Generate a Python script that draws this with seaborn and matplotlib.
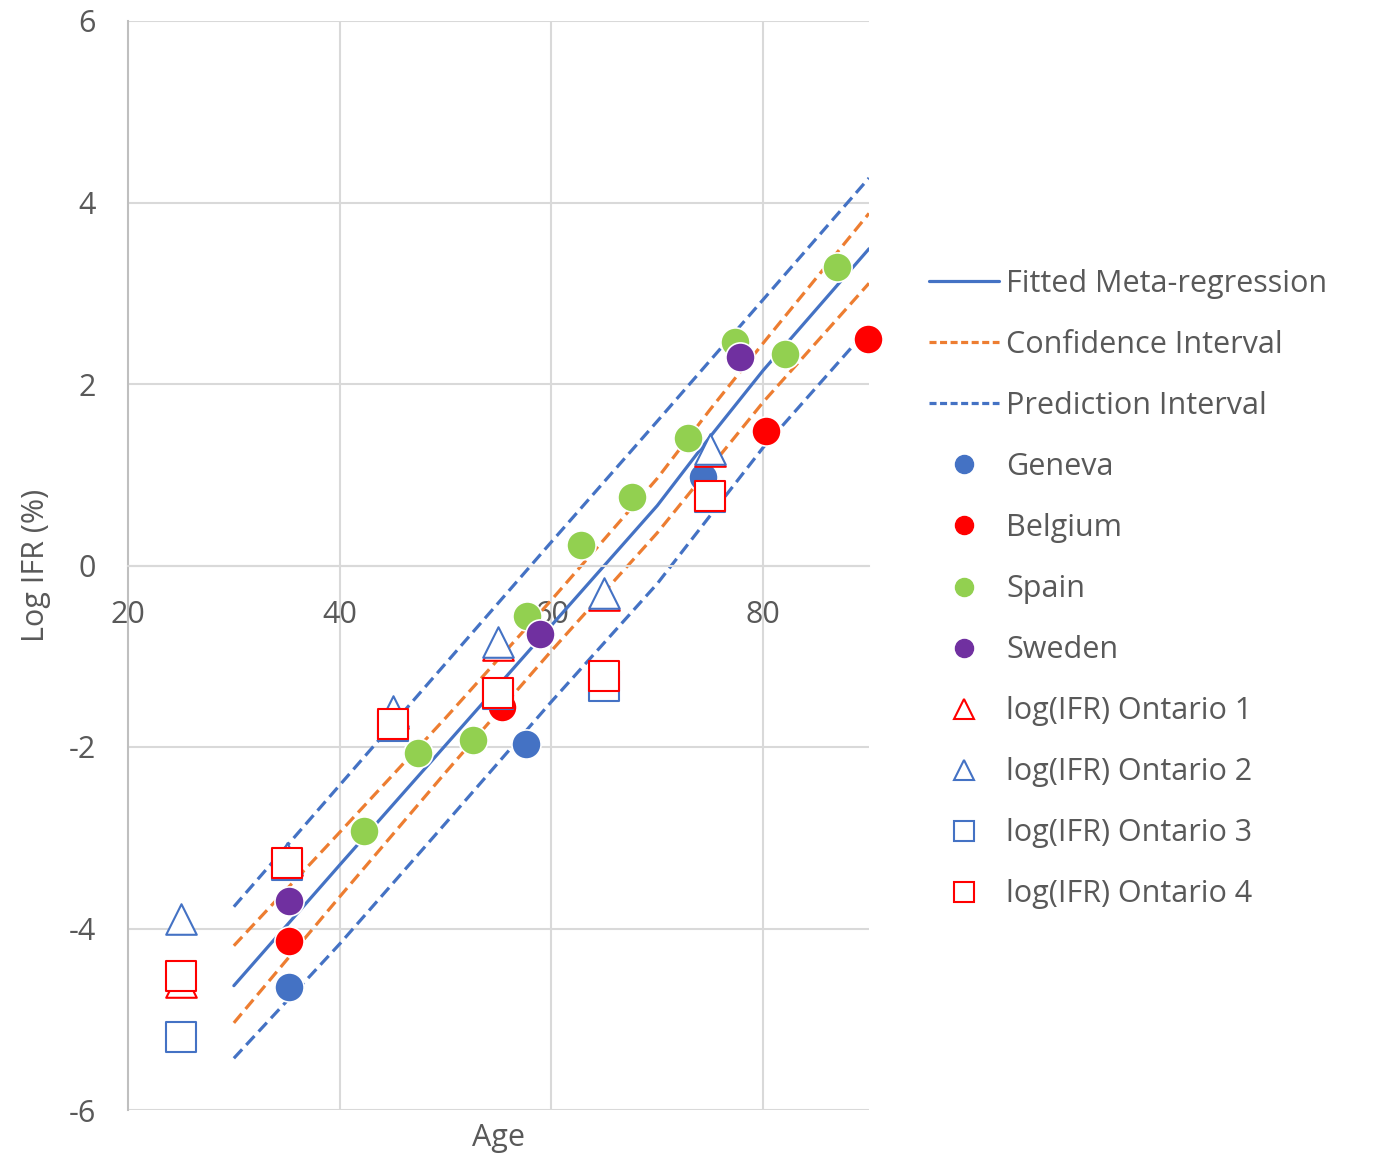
import matplotlib
matplotlib.use("Agg")
import matplotlib.pyplot as plt
from matplotlib.lines import Line2D
import seaborn as sns

# Meta-regression curves evaluated on an age grid
curve_age = [30, 40, 50, 60, 70, 75, 80, 90]
fitted = [-4.63, -3.30, -1.98, -0.66, 0.66, 1.42, 2.15, 3.49]
ci_upper = [-4.19, -2.94, -1.68, -0.38, 0.96, 1.72, 2.45, 3.88]
ci_lower = [-5.04, -3.65, -2.28, -0.94, 0.36, 1.08, 1.80, 3.11]
pi_upper = [-3.76, -2.42, -1.08, 0.26, 1.59, 2.26, 2.93, 4.27]
pi_lower = [-5.43, -4.17, -2.84, -1.50, -0.20, 0.55, 1.30, 2.62]

# Observed log IFR by age group
geneva_age = [35.2, 57.6, 74.3]
geneva_val = [-4.65, -1.97, 0.98]
belgium_age = [35.2, 55.3, 80.3, 89.9]
belgium_val = [-4.14, -1.56, 1.48, 2.50]
spain_age = [42.3, 47.4, 52.6, 57.7, 62.8, 67.6, 72.9, 77.3, 82.1, 87.0]
spain_val = [-2.93, -2.07, -1.92, -0.56, 0.23, 0.76, 1.40, 2.46, 2.33, 3.29]
sweden_age = [35.2, 58.9, 77.8]
sweden_val = [-3.70, -0.76, 2.30]
ontario_age = [25, 35, 45, 55, 65, 75]
ontario1 = [-4.59, -3.25, -1.62, -0.88, -0.33, 1.26]
ontario2 = [-3.90, -3.22, -1.60, -0.84, -0.30, 1.28]
ontario3 = [-5.20, -3.30, -1.77, -1.42, -1.33, 0.75]
ontario4 = [-4.52, -3.28, -1.75, -1.40, -1.22, 0.77]

x_ticks = [20, 40, 60, 80]
y_ticks = [6, 4, 2, 0, -2, -4, -6]
y_tick_labels = ["6", "4", "2", "0", "-2", "-4", "-6"]

BLUE = "#4472C4"
ORANGE = "#ED7D31"
RED = "#FF0000"
GREEN = "#92D050"
PURPLE = "#7030A0"
TEXT = "#595959"
GRID = "#D9D9D9"
FS = 22

sns.set_style("white")
plt.rcParams["font.family"] = ["Open Sans", "DejaVu Sans"]

fig = plt.figure(figsize=(13.81, 11.58), dpi=100)
ax = fig.add_axes([128 / 1381, 1 - 1110 / 1158, (869 - 128) / 1381, (1110 - 21) / 1158])

ax.set_xlim(20, 90)
ax.set_ylim(-6, 6)

# gridlines
for yv in y_ticks:
    ax.axhline(yv, color=GRID, lw=1.5, zorder=0)
for xv in x_ticks[1:]:
    ax.axvline(xv, color=GRID, lw=1.5, zorder=0)

dash = (0, (3.8, 1.9))
lw = 2.3
sns.lineplot(x=curve_age, y=fitted, ax=ax, color=BLUE, linewidth=lw, sort=False, estimator=None, zorder=2)
sns.lineplot(x=curve_age, y=ci_upper, ax=ax, color=ORANGE, linewidth=lw, linestyle=dash, sort=False, estimator=None, zorder=2)
sns.lineplot(x=curve_age, y=ci_lower, ax=ax, color=ORANGE, linewidth=lw, linestyle=dash, sort=False, estimator=None, zorder=2)
sns.lineplot(x=curve_age, y=pi_upper, ax=ax, color=BLUE, linewidth=lw, linestyle=dash, sort=False, estimator=None, zorder=2)
sns.lineplot(x=curve_age, y=pi_lower, ax=ax, color=BLUE, linewidth=lw, linestyle=dash, sort=False, estimator=None, zorder=2)

circle_s = 21 ** 2
hollow_s = 22 ** 2
z = 3
for ages, vals, col in [(geneva_age, geneva_val, BLUE), (belgium_age, belgium_val, RED),
                        (spain_age, spain_val, GREEN), (sweden_age, sweden_val, PURPLE)]:
    sns.scatterplot(x=ages, y=vals, ax=ax, marker="o", s=circle_s, color=col,
                    edgecolor="white", linewidth=1.2, zorder=z, clip_on=False)
    z += 1
for vals, mk, col in [(ontario1, "^", RED), (ontario2, "^", BLUE),
                      (ontario3, "s", BLUE), (ontario4, "s", RED)]:
    sns.scatterplot(x=ontario_age, y=vals, ax=ax, marker=mk, s=hollow_s, color="white",
                    edgecolor=col, linewidth=1.5, zorder=z, clip_on=False)
    z += 1

# axes: y axis at x=20, x axis crossing at y=0
for side in ["top", "right"]:
    ax.spines[side].set_visible(False)
ax.spines["left"].set_color("#BFBFBF")
ax.spines["left"].set_linewidth(1.5)
ax.spines["bottom"].set_position(("data", 0))
ax.spines["bottom"].set_color(GRID)
ax.spines["bottom"].set_linewidth(1.5)

ax.set_xticks(x_ticks)
ax.set_xticklabels([str(v) for v in x_ticks])
ax.set_yticks(y_ticks)
ax.set_yticklabels(y_tick_labels)
ax.tick_params(axis="x", length=0, pad=25, labelsize=FS, labelcolor=TEXT)
ax.tick_params(axis="y", length=0, pad=23, labelsize=FS, labelcolor=TEXT)

ax.set_xlabel("Age", fontsize=FS, color=TEXT)
ax.xaxis.set_label_coords(0.5, -0.0257)
ax.xaxis.label.set_va("center")
ax.set_ylabel("Log IFR (%)", fontsize=FS, color=TEXT)
ax.yaxis.set_label_coords(-0.1235, 0.5)
ax.yaxis.label.set_va("center")

handles = [
    Line2D([], [], color=BLUE, lw=lw),
    Line2D([], [], color=ORANGE, lw=lw, linestyle=(0, (2.2, 1.1))),
    Line2D([], [], color=BLUE, lw=lw, linestyle=(0, (2.2, 1.1))),
    Line2D([], [], ls="none", marker="o", markersize=13, color=BLUE),
    Line2D([], [], ls="none", marker="o", markersize=13, color=RED),
    Line2D([], [], ls="none", marker="o", markersize=13, color=GREEN),
    Line2D([], [], ls="none", marker="o", markersize=13, color=PURPLE),
    Line2D([], [], ls="none", marker="^", markersize=14, markerfacecolor="white", markeredgecolor=RED, markeredgewidth=1.5),
    Line2D([], [], ls="none", marker="^", markersize=14, markerfacecolor="white", markeredgecolor=BLUE, markeredgewidth=1.5),
    Line2D([], [], ls="none", marker="s", markersize=14, markerfacecolor="white", markeredgecolor=BLUE, markeredgewidth=1.5),
    Line2D([], [], ls="none", marker="s", markersize=14, markerfacecolor="white", markeredgecolor=RED, markeredgewidth=1.5),
]
labels = ["Fitted Meta-regression", "Confidence Interval", "Prediction Interval",
          "Geneva", "Belgium", "Spain", "Sweden",
          "log(IFR) Ontario 1", "log(IFR) Ontario 2", "log(IFR) Ontario 3", "log(IFR) Ontario 4"]
leg = fig.legend(handles, labels, loc="upper left", bbox_to_anchor=(929 / 1381, 1 - 269 / 1158),
                 frameon=False, fontsize=FS, handlelength=2.29, handletextpad=0.23,
                 labelspacing=1.016, borderpad=0, borderaxespad=0)
for t in leg.get_texts():
    t.set_color(TEXT)

fig.savefig("out.png", dpi=100, facecolor="white")
